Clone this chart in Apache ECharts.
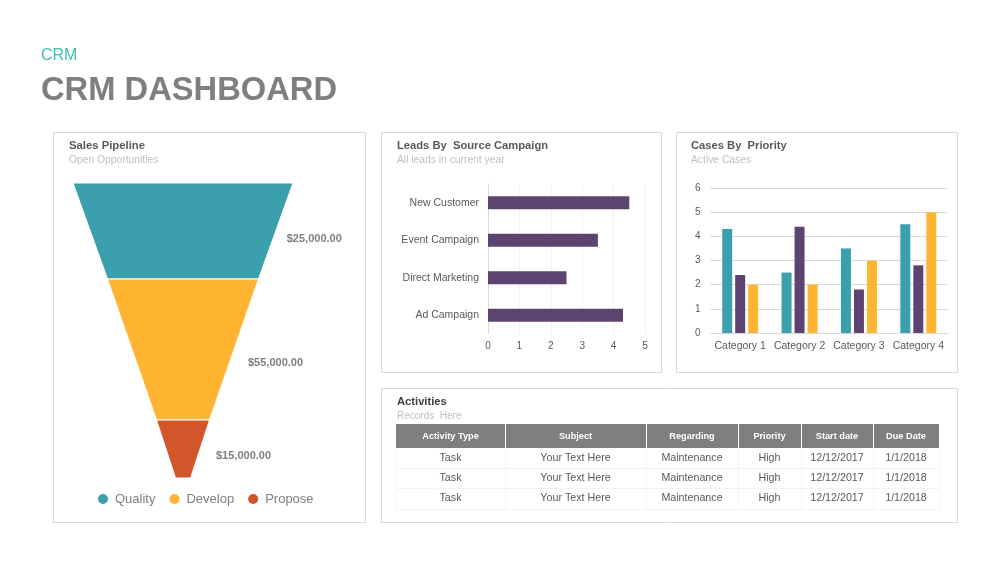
<!DOCTYPE html>
<html>
<head>
<meta charset="utf-8">
<title>CRM Dashboard</title>
<script src="https://cdn.jsdelivr.net/npm/echarts@6/dist/echarts.min.js"></script>
<style>
  html, body { margin: 0; padding: 0; background: #fff; }
  #main { width: 1000px; height: 563px; }
</style>
</head>
<body>
<div id="main"></div>
<script>
// sales pipeline
const stageNames = ['Quality', 'Develop', 'Propose'];
const stageAmounts = ['$25,000.00', '$55,000.00', '$15,000.00'];
// the funnel in the picture is not proportional to its amounts, so widths are read off separately
const stageWidths = [220, 151, 53];
const stageHeights = [96, 141, 58];

// leads by source campaign
const leadCategories = ['New Customer', 'Event Campaign', 'Direct Marketing', 'Ad Campaign'];
const leadValues = [4.5, 3.5, 2.5, 4.3];

// cases by priority
const caseCategories = ['Category 1', 'Category 2', 'Category 3', 'Category 4'];
const caseSeries1 = [4.3, 2.5, 3.5, 4.5];
const caseSeries2 = [2.4, 4.4, 1.8, 2.8];
const caseSeries3 = [2, 2, 3, 5];

// activities table
const tableHeader = ['Activity Type', 'Subject', 'Regarding', 'Priority', 'Start date', 'Due Date'];
const tableRow1 = ['Task', 'Your Text Here', 'Maintenance', 'High', '12/12/2017', '1/1/2018'];
const tableRow2 = ['Task', 'Your Text Here', 'Maintenance', 'High', '12/12/2017', '1/1/2018'];
const tableRow3 = ['Task', 'Your Text Here', 'Maintenance', 'High', '12/12/2017', '1/1/2018'];

const FONT = '"Liberation Sans", Arial, sans-serif';
const TEAL = '#3C9FAE';
const YELLOW = '#FFB531';
const RED = '#D2552B';
const PURPLE = '#5C4370';

const text = (x, y, str, size, color, weight, align) => ({
  type: 'text',
  x: x,
  y: y,
  silent: true,
  style: {
    text: str,
    font: (weight || 'normal') + ' ' + size + 'px ' + FONT,
    fill: color,
    align: align || 'left',
    verticalAlign: 'middle'
  }
});

const panel = (x, y, w, h) => ({
  type: 'rect',
  silent: true,
  z: -1,
  shape: { x: x + 0.5, y: y + 0.5, width: w, height: h },
  style: { fill: '#fff', stroke: '#D9D9D9', lineWidth: 1 }
});

const hline = (x1, x2, y, color) => ({
  type: 'line',
  silent: true,
  shape: { x1: x1, y1: y + 0.5, x2: x2, y2: y + 0.5 },
  style: { stroke: color, lineWidth: 1 }
});

const vline = (x, y1, y2, color) => ({
  type: 'line',
  silent: true,
  shape: { x1: x + 0.5, y1: y1, x2: x + 0.5, y2: y2 },
  style: { stroke: color, lineWidth: 1 }
});

// table drawn as graphic elements
const colX = [396, 505, 646, 738, 801, 873, 939];
const headTop = 424;
const headBottom = 448;
const rowLines = [448, 468, 488, 509];

const tableGraphic = () => {
  const out = [];
  out.push({
    type: 'rect',
    silent: true,
    shape: { x: colX[0], y: headTop, width: colX[6] - colX[0], height: headBottom - headTop },
    style: { fill: '#7F7F7F' }
  });
  rowLines.forEach((y, i) => {
    if (i > 0) out.push(hline(colX[0], colX[6], y, '#F2F2F2'));
  });
  colX.forEach((x, i) => {
    if (i > 0 && i < 6) out.push(vline(x, headTop, headBottom, '#fff'));
    out.push(vline(x, headBottom, rowLines[3], '#F5F5F5'));
  });
  tableHeader.forEach((str, i) => {
    out.push(text((colX[i] + colX[i + 1]) / 2, 436.5, str, 9.2, '#fff', 'bold', 'center'));
  });
  [tableRow1, tableRow2, tableRow3].forEach((row, r) => {
    row.forEach((str, i) => {
      out.push(text((colX[i] + colX[i + 1]) / 2, 458.5 + r * 20, str, 10.7, '#595959', 'normal', 'center'));
    });
  });
  return out;
};

const labelShiftY = [8, 13, 7];
const labelGaps = [6, 9, 11];

const funnelData = stageNames.map((name, i) => ({
  name: name,
  value: stageWidths[i],
  itemStyle: { height: stageHeights[i] },
  labelLine: { length: labelGaps[i] }
}));

const caseBar = (name, values, color) => ({
  name: name,
  type: 'bar',
  xAxisIndex: 1,
  yAxisIndex: 1,
  data: values,
  barWidth: 10,
  barGap: '30%',
  itemStyle: { color: color }
});

const chart = echarts.init(document.getElementById('main'), null, { renderer: 'canvas' });

const option = {
  animation: false,
  backgroundColor: '#fff',
  textStyle: { fontFamily: FONT },
  color: [TEAL, YELLOW, RED],
  legend: {
    show: true,
    data: stageNames,
    left: 96,
    top: 492,
    padding: 0,
    icon: 'circle',
    itemWidth: 12,
    itemHeight: 12,
    itemGap: 12,
    selectedMode: false,
    textStyle: { color: '#7F7F7F', fontSize: 13, fontFamily: FONT, padding: [0, 0, 0, 1] }
  },
  grid: [
    { left: 488, top: 184, width: 157, height: 150 },
    { left: 710.5, top: 188, width: 237.5, height: 145 }
  ],
  xAxis: [
    {
      gridIndex: 0,
      type: 'value',
      min: 0,
      max: 5,
      interval: 1,
      axisLine: { show: false },
      axisTick: { show: false },
      axisLabel: { color: '#595959', fontSize: 10, margin: 7 },
      splitLine: { show: true, lineStyle: { color: '#F2F2F2' } }
    },
    {
      gridIndex: 1,
      type: 'category',
      data: caseCategories,
      axisLine: { show: true, lineStyle: { color: '#D9D9D9' } },
      axisTick: { show: false },
      axisLabel: { color: '#595959', fontSize: 10.5, margin: 8, interval: 0 }
    }
  ],
  yAxis: [
    {
      gridIndex: 0,
      type: 'category',
      inverse: true,
      data: leadCategories,
      axisLine: { show: true, lineStyle: { color: '#D9D9D9' } },
      axisTick: { show: false },
      axisLabel: { color: '#595959', fontSize: 10.5, margin: 9 }
    },
    {
      gridIndex: 1,
      type: 'value',
      min: 0,
      max: 6,
      interval: 1,
      axisLine: { show: false },
      axisTick: { show: false },
      axisLabel: { color: '#595959', fontSize: 10, margin: 10 },
      splitLine: { show: true, lineStyle: { color: '#D9D9D9' } }
    }
  ],
  series: [
    {
      name: 'Sales Pipeline',
      type: 'funnel',
      left: 73,
      top: 183,
      width: 220,
      height: 295,
      min: 15,
      max: 220,
      minSize: 15,
      maxSize: 220,
      gap: 0,
      sort: 'none',
      funnelAlign: 'center',
      silent: true,
      label: {
        show: true,
        position: 'right',
        color: '#7F7F7F',
        fontSize: 11,
        fontWeight: 'bold',
        formatter: (p) => stageAmounts[p.dataIndex]
      },
      labelLine: { show: false },
      labelLayout: (p) => ({ dy: labelShiftY[p.dataIndex] }),
      itemStyle: { borderColor: '#fff', borderWidth: 1 },
      data: funnelData
    },
    {
      name: 'Leads',
      type: 'bar',
      xAxisIndex: 0,
      yAxisIndex: 0,
      data: leadValues,
      barWidth: 13,
      itemStyle: { color: PURPLE }
    },
    caseBar('Series 1', caseSeries1, TEAL),
    caseBar('Series 2', caseSeries2, PURPLE),
    caseBar('Series 3', caseSeries3, YELLOW)
  ],
  graphic: [
    panel(53, 132, 312, 390),
    panel(381, 132, 280, 240),
    panel(676, 132, 281, 240),
    panel(381, 388, 576, 134),
    text(41, 55.5, 'CRM', 16, '#3DBDAE'),
    text(41, 91, 'CRM DASHBOARD', 32.7, '#7F7F7F', 'bold'),
    text(69, 146, 'Sales Pipeline', 11.3, '#595959', 'bold'),
    text(69, 160, 'Open Opportunities', 10.3, '#BFBFBF'),
    text(397, 146, 'Leads By  Source Campaign', 11.2, '#595959', 'bold'),
    text(397, 160, 'All leads in current year', 10.3, '#BFBFBF'),
    text(691, 146, 'Cases By  Priority', 11.2, '#595959', 'bold'),
    text(691, 160, 'Active Cases', 10.3, '#BFBFBF'),
    text(397, 402, 'Activities', 11.2, '#404040', 'bold'),
    text(397, 416, 'Records  Here', 10, '#BFBFBF')
  ].concat(tableGraphic())
};

chart.setOption(option);
</script>
</body>
</html>
